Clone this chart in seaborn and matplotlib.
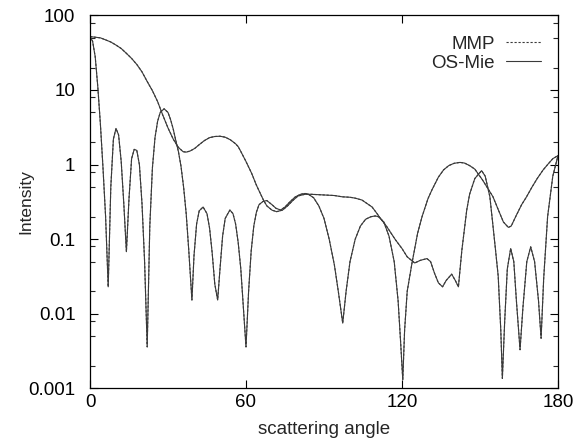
import numpy as np
import pandas as pd
import matplotlib
matplotlib.use("Agg")
import matplotlib.pyplot as plt
import seaborn as sns
from matplotlib.ticker import LogLocator, FixedLocator, NullFormatter
from matplotlib.lines import Line2D

# ---- data ----
# smooth-starting curve (polarisation 1)
angle_a = [0, 2, 4, 6, 8, 10, 12, 14, 16, 18, 20, 22, 24, 26, 28, 30, 32, 34, 35.8, 37,
           38.5, 40.3, 42, 44, 46, 48, 50, 52, 54, 56, 57, 58, 60, 62.2, 64, 66.7, 68, 70,
           71.8, 74, 76, 78, 80, 82.7, 85, 88, 91, 94, 97, 100, 102, 104.6, 106, 108.5,
           110, 111.7, 114, 117.5, 120, 122, 124.9, 127, 129.6, 131, 132.5, 134, 135.6,
           137, 139.1, 140.5, 141.7, 143, 144.9, 146, 148, 150.6, 152, 153.8, 155, 156,
           157, 158, 158.6, 159.5, 160.5, 161.8, 163, 164, 165.4, 166.5, 168, 169.5, 171,
           172.5, 173.5, 174.5, 176, 178, 180]
os_mie_a = [52, 51, 50, 47, 44, 40, 36, 31, 26.5, 22, 17.5, 13, 9.8, 7.0, 4.6, 3.1, 2.2,
            1.7, 1.49, 1.47, 1.52, 1.65, 1.85, 2.1, 2.3, 2.38, 2.4, 2.33, 2.15, 1.9, 1.74,
            1.5, 1.1, 0.76, 0.53, 0.335, 0.28, 0.245, 0.234, 0.245, 0.28, 0.33, 0.38, 0.40,
            0.40, 0.395, 0.39, 0.385, 0.37, 0.365, 0.355, 0.335, 0.31, 0.27, 0.23, 0.19,
            0.15, 0.098, 0.075, 0.058, 0.048, 0.052, 0.055, 0.05, 0.035, 0.026, 0.023,
            0.028, 0.034, 0.028, 0.023, 0.07, 0.246, 0.4, 0.65, 0.83, 0.7, 0.37, 0.15,
            0.07, 0.032, 0.006, 0.00136, 0.008, 0.04, 0.075, 0.05, 0.015, 0.0033, 0.012,
            0.05, 0.079, 0.05, 0.015, 0.0047, 0.03, 0.2, 0.7, 1.32]
mmp_a = list(os_mie_a)

# oscillating curve (polarisation 2)
angle_b = [0, 1, 2, 3, 4, 5, 6, 7, 8, 9, 10, 11, 12, 13, 14, 15, 16, 17, 18, 19, 20, 21,
           22, 23, 24, 25, 26, 27, 28.5, 30, 31, 32, 33, 34, 35, 36, 37, 38, 39.2, 40, 41,
           42, 43.5, 45, 46, 47, 48, 49.1, 50, 51, 52, 53.8, 55, 56, 57, 58, 59, 60, 61,
           62, 63, 64, 65, 66.5, 68, 70, 71.5, 73.3, 75, 77, 79, 81, 82.7, 84, 86, 88, 90,
           92, 94, 95.5, 97.2, 98.5, 100, 102, 104, 106, 108, 109.7, 111, 113, 115, 117,
           118.5, 119.5, 120.3, 121, 122, 123.8, 126, 127.7, 130, 131.5, 134, 136, 138,
           140, 142.3, 144, 146, 148, 149.2, 151, 153, 155, 157, 159, 160.9, 162, 164,
           166, 167.9, 170, 172, 174.3, 176, 178, 180]
os_mie_b = [52, 45, 28, 11, 3.5, 0.9, 0.2, 0.023, 0.5, 2.2, 3.05, 2.5, 1.1, 0.3, 0.068,
            0.35, 1.2, 1.6, 1.55, 1.0, 0.3, 0.05, 0.0036, 0.15, 0.9, 2.3, 3.8, 5.0, 5.6,
            5.0, 4.0, 3.0, 2.1, 1.5, 0.95, 0.5, 0.22, 0.07, 0.0153, 0.06, 0.16, 0.24, 0.27,
            0.22, 0.14, 0.065, 0.025, 0.0153, 0.04, 0.11, 0.19, 0.246, 0.22, 0.16, 0.09,
            0.04, 0.012, 0.0036, 0.02, 0.07, 0.15, 0.23, 0.29, 0.32, 0.33, 0.29, 0.26,
            0.246, 0.27, 0.32, 0.37, 0.40, 0.41, 0.40, 0.36, 0.28, 0.19, 0.1, 0.045, 0.02,
            0.0075, 0.02, 0.05, 0.1, 0.15, 0.185, 0.2, 0.205, 0.2, 0.17, 0.11, 0.05, 0.015,
            0.004, 0.0013, 0.006, 0.02, 0.047, 0.12, 0.2, 0.35, 0.457, 0.68, 0.85, 0.97,
            1.04, 1.07, 1.05, 0.97, 0.87, 0.76, 0.62, 0.48, 0.37, 0.25, 0.17, 0.144, 0.15,
            0.21, 0.29, 0.37, 0.5, 0.65, 0.85, 1.0, 1.2, 1.32]
mmp_b = list(os_mie_b)

x_ticks = [0, 60, 120, 180]
y_ticks = [0.001, 0.01, 0.1, 1, 10, 100]
y_tick_labels = ["0.001", "0.01", "0.1", "1", "10", "100"]
legend_labels = ["MMP", "OS-Mie"]

# ---- style ----
sns.set_theme(style="ticks")
plt.rcParams["font.family"] = ["Liberation Sans", "DejaVu Sans"]

fig = plt.figure(figsize=(5.75, 4.43), dpi=100)
ax = fig.add_axes([90 / 575, 1 - 388.4 / 443, 468 / 575, 373 / 443])

line_col = "#3a3a3a"
lw = 0.8
dash = (0, (2.0, 1.6))
fs = 13.5

for xs, ys in [(angle_a, mmp_a), (angle_b, mmp_b)]:
    sns.lineplot(x=xs, y=ys, ax=ax, color=line_col, lw=lw, linestyle=dash,
                 estimator=None, sort=False)
for xs, ys in [(angle_a, os_mie_a), (angle_b, os_mie_b)]:
    sns.lineplot(x=xs, y=ys, ax=ax, color=line_col, lw=lw, linestyle="-",
                 estimator=None, sort=False)

ax.set_yscale("log")
ax.set_xlim(0, 180)
ax.set_ylim(0.001, 100)
ax.set_xticks(x_ticks)
ax.set_xticklabels([str(v) for v in x_ticks])
ax.yaxis.set_major_locator(FixedLocator(y_ticks))
ax.set_yticklabels(y_tick_labels)
ax.yaxis.set_minor_locator(LogLocator(base=10, subs=[2, 5, 8]))
ax.yaxis.set_minor_formatter(NullFormatter())

for s in ax.spines.values():
    s.set_visible(True)
    s.set_color("black")
    s.set_linewidth(0.9)

ax.tick_params(axis="both", which="major", direction="in", length=6, width=0.8,
               top=True, right=True, labelsize=fs, colors="black")
ax.tick_params(axis="x", which="major", pad=4)
ax.tick_params(axis="y", which="major", pad=10.5)
ax.tick_params(axis="y", which="minor", direction="in", length=3.5, width=0.8,
               left=True, right=True)
ax.tick_params(axis="x", which="minor", bottom=False, top=False)

ax.set_xlabel("scattering angle", fontsize=fs, labelpad=7)
ax.set_ylabel("Intensity", fontsize=12.5)
ax.yaxis.set_label_coords(-0.1218, 0.5)

handles = [Line2D([], [], color=line_col, lw=lw, linestyle=dash),
           Line2D([], [], color=line_col, lw=lw, linestyle="-")]
leg = ax.legend(handles, legend_labels, loc="upper right",
                bbox_to_anchor=(0.9637, 0.945), frameon=False, markerfirst=False,
                fontsize=fs, handlelength=1.85, handletextpad=0.62, labelspacing=0.1,
                borderpad=0, borderaxespad=0)

fig.savefig("out.png", dpi=100)
